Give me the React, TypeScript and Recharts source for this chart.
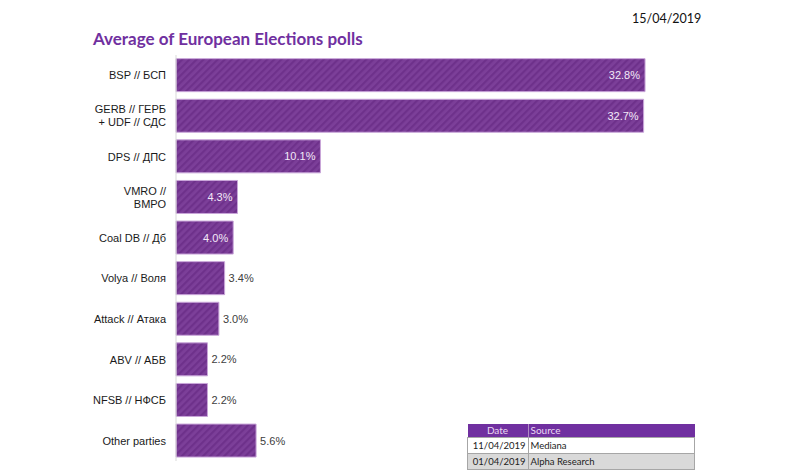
import { BarChart, Bar, XAxis, YAxis, LabelList } from "recharts";

const parties = [
  "BSP // БСП",
  "GERB // ГЕРБ\n+ UDF // СДС",
  "DPS // ДПС",
  "VMRO //\nВМРО",
  "Coal DB // Дб",
  "Volya // Воля",
  "Attack // Атака",
  "ABV // АБВ",
  "NFSB // НФСБ",
  "Other parties",
];
const shares = [32.8, 32.7, 10.1, 4.3, 4.0, 3.4, 3.0, 2.2, 2.2, 5.6];
const labelInside = [true, true, true, true, true, false, false, false, false, false];

const pollDates = ["11/04/2019", "01/04/2019"];
const pollSources = ["Mediana", "Alpha Research"];

const rows = parties.map((p, i) => ({ party: p, share: shares[i], inside: labelInside[i] }));

const PURPLE = "#7030a0";
const FONT = "'Liberation Sans', Arial, sans-serif";

function PartyTick(props: any) {
  const { x, y, payload } = props;
  const lines = String(payload.value).split("\n");
  const start = y - ((lines.length - 1) * 13) / 2;
  return (
    <text x={x} y={start} textAnchor="end" dominantBaseline="central" fontSize={11} fill="#1a1a1a" fontFamily={FONT}>
      {lines.map((l, i) => (
        <tspan key={i} x={x} y={start + i * 13}>
          {l}
        </tspan>
      ))}
    </text>
  );
}

function ShareLabel(props: any) {
  const { x, y, width, height, value, index } = props;
  const inside = rows[index]?.inside;
  const cy = y + height / 2;
  return (
    <text
      x={inside ? x + width - 5 : x + width + 4}
      y={cy}
      textAnchor={inside ? "end" : "start"}
      dominantBaseline="central"
      fontSize={11}
      fontFamily={FONT}
      fill={inside ? "#f3e8f8" : "#404040"}
    >
      {value.toFixed(1)}%
    </text>
  );
}

export default function App() {
  return (
    <div style={{ position: "absolute", left: 0, top: 0, width: 787, height: 470, background: "#fff", overflow: "hidden" }}>
      <div
        style={{
          position: "absolute",
          left: 93,
          top: 28,
          fontFamily: "Lato, sans-serif",
          fontWeight: 700,
          fontSize: 17,
          color: PURPLE,
          whiteSpace: "nowrap",
        }}
      >
        Average of European Elections polls
      </div>
      <div
        style={{
          position: "absolute",
          left: 632,
          top: 11,
          fontFamily: "Lato, sans-serif",
          fontSize: 12.5,
          color: "#111",
        }}
      >
        15/04/2019
      </div>
      <BarChart
        width={787}
        height={470}
        data={rows}
        layout="vertical"
        margin={{ top: 55, right: 39, bottom: 9, left: 0 }}
        barCategoryGap="9%"
      >
        <defs>
          <pattern id="stripes" width="5" height="5" patternUnits="userSpaceOnUse" patternTransform="rotate(45)">
            <rect width="5" height="5" fill="#7c3f99" />
            <rect width="2.2" height="5" fill="#6e318b" />
          </pattern>
        </defs>
        <XAxis type="number" domain={[0, 40]} hide />
        <YAxis
          type="category"
          dataKey="party"
          width={176}
          tickSize={0}
          tickMargin={10}
          axisLine={{ stroke: "#d9d9d9" }}
          tick={<PartyTick />}
          interval={0}
        />
        <Bar dataKey="share" fill="url(#stripes)" stroke="#c9a6d9" strokeWidth={1} isAnimationActive={false}>
          <LabelList dataKey="share" content={<ShareLabel />} />
        </Bar>
      </BarChart>
      <table
        style={{
          position: "absolute",
          left: 467,
          top: 424,
          width: 228,
          borderCollapse: "collapse",
          fontFamily: "Lato, sans-serif",
          fontSize: 9.5,
          color: "#222",
        }}
      >
        <thead>
          <tr style={{ background: PURPLE, color: "#ead9f3", height: 13, fontSize: 10 }}>
            <th style={{ width: 60, fontWeight: 400, textAlign: "center", padding: 0, borderRight: "1px solid #b08ac4" }}>Date</th>
            <th style={{ fontWeight: 400, textAlign: "left", padding: "0 2px" }}>Source</th>
          </tr>
        </thead>
        <tbody>
          {pollDates.map((d, i) => (
            <tr key={d} style={{ background: i % 2 ? "#d9d9d9" : "#fff", height: 16 }}>
              <td style={{ textAlign: "right", padding: "0 2px", border: "1px solid #a6a6a6" }}>{d}</td>
              <td style={{ textAlign: "left", padding: "0 2px", border: "1px solid #a6a6a6" }}>{pollSources[i]}</td>
            </tr>
          ))}
        </tbody>
      </table>
    </div>
  );
}
